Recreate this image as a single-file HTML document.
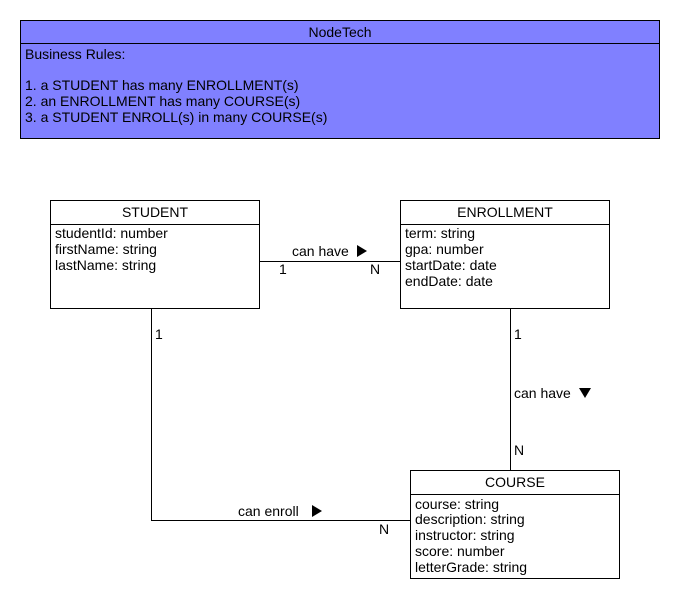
<!DOCTYPE html>
<html><head><meta charset="utf-8"><style>
body{margin:0;background:#fff;width:680px;height:600px;overflow:hidden}
svg text{font-family:"Liberation Sans",sans-serif;font-size:14px;fill:#000}
</style></head><body>
<svg width="680" height="600" xmlns="http://www.w3.org/2000/svg">
<rect x="20.5" y="20.5" width="639" height="118" fill="#8080ff" stroke="#000"/>
<line x1="20" y1="43.5" x2="660" y2="43.5" stroke="#000"/>
<text x="340" y="37" text-anchor="middle">NodeTech</text>
<text x="25" y="59">Business Rules:</text>
<text x="25" y="90">1. a STUDENT has many ENROLLMENT(s)</text>
<text x="25" y="106">2. an ENROLLMENT has many COURSE(s)</text>
<text x="25" y="122">3. a STUDENT ENROLL(s) in many COURSE(s)</text>

<g fill="#fff" stroke="#000">
<rect x="50.5" y="200.5" width="209" height="108"/>
<rect x="400.5" y="200.5" width="209" height="108"/>
<rect x="410.5" y="470.5" width="209" height="108"/>
</g>
<g stroke="#000" fill="none">
<line x1="50" y1="224.5" x2="260" y2="224.5"/>
<line x1="400" y1="224.5" x2="610" y2="224.5"/>
<line x1="410" y1="494.5" x2="620" y2="494.5"/>
<line x1="260" y1="261.5" x2="400" y2="261.5"/>
<polyline points="151.5,309 151.5,520.5 410,520.5"/>
<line x1="510.5" y1="309" x2="510.5" y2="470"/>
</g>
<text x="155" y="217" text-anchor="middle">STUDENT</text>
<text x="55" y="238">studentId: number</text>
<text x="55" y="254">firstName: string</text>
<text x="55" y="270">lastName: string</text>
<text x="505" y="217" text-anchor="middle">ENROLLMENT</text>
<text x="405" y="238">term: string</text>
<text x="405" y="254">gpa: number</text>
<text x="405" y="270">startDate: date</text>
<text x="405" y="286">endDate: date</text>
<text x="515" y="487" text-anchor="middle">COURSE</text>
<text x="415" y="509">course: string</text>
<text x="415" y="524">description: string</text>
<text x="415" y="540">instructor: string</text>
<text x="415" y="556">score: number</text>
<text x="415" y="572">letterGrade: string</text>

<text x="292" y="256">can have</text><polygon points="357,245 367,251 357,257" fill="#000"/>
<text x="279" y="274">1</text>
<text x="370" y="274">N</text>
<text x="155" y="339">1</text>
<text x="238" y="516">can enroll</text><polygon points="312,505 322,511 312,517" fill="#000"/>
<text x="379" y="534">N</text>
<text x="514" y="339">1</text>
<text x="514" y="398">can have</text><polygon points="579,388 591,388 585,398" fill="#000"/>
<text x="514" y="455">N</text>
</svg>
</body></html>
